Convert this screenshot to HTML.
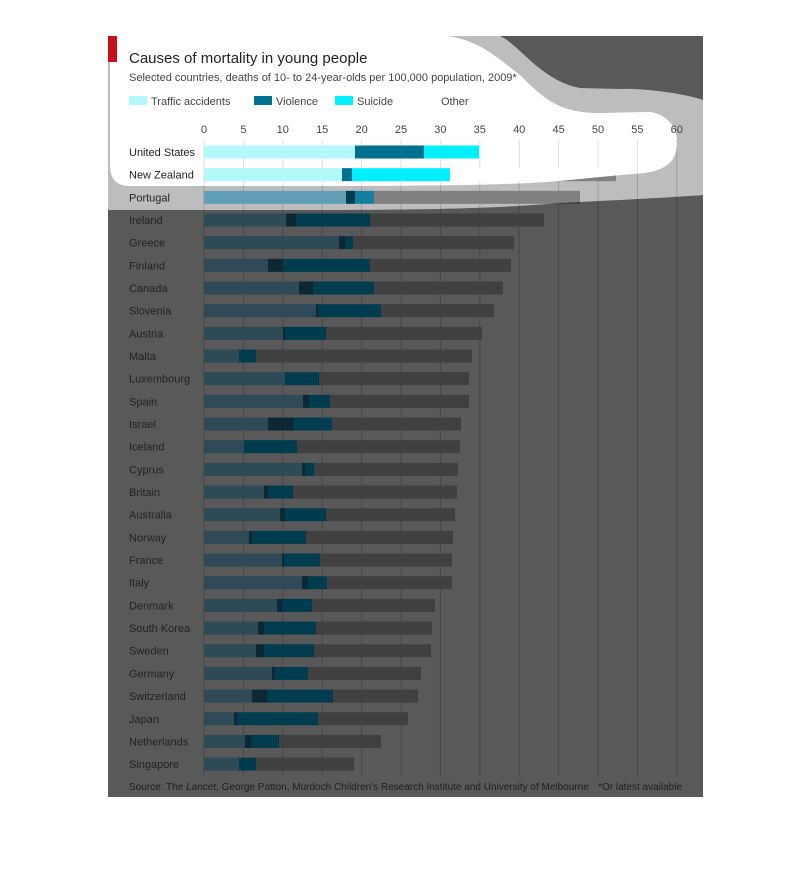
<!DOCTYPE html>
<html><head><meta charset="utf-8"><style>
html,body{margin:0;padding:0;background:#fff;width:810px;height:892px;overflow:hidden}
svg{display:block}
text{font-family:"Liberation Sans",sans-serif}
</style></head><body>
<svg id="s" width="810" height="892" xmlns="http://www.w3.org/2000/svg">
<defs>
<mask id="mMid"><path d="M108,36 L500,36 C520,45 540,80 580,88 L620,89 C650,88 690,95 703,100 L703,195 C680,197 620,200 560,203 C500,208 440,210 300,210 L108,210 Z" fill="#fff"/></mask>
<mask id="mLight"><path d="M115,36 L447,36 C480,40 500,60 520,75 C545,100 560,113 600,113 L650,112 C670,115 678,130 677,145 C676,162 665,170 645,173 C610,176 590,178 570,180 C530,184 480,186 300,186 L130,186 C114,186 110,176 110,165 L110,60 C110,45 112,36 115,36 Z" fill="#fff"/></mask>
<clipPath id="cp"><rect x="108" y="36" width="595" height="761"/></clipPath>
</defs>
<g clip-path="url(#cp)">
<g id="dark"></g>
<g id="mid" mask="url(#mMid)"></g>
<g id="light" mask="url(#mLight)"></g>
</g>
<rect x="108" y="36" width="9" height="26" fill="#c8101a"/>
<text x="129" y="63" font-size="15" fill="#222">Causes of mortality in young people</text>
<text x="129" y="81" font-size="11" fill="#444">Selected countries, deaths of 10- to 24-year-olds per 100,000 population, 2009*</text>
<rect x="129" y="96" width="18" height="9" fill="#b3f9fb"/><text x="151" y="105" font-size="11" fill="#444">Traffic accidents</text>
<rect x="254" y="96" width="18" height="9" fill="#00718f"/><text x="276" y="105" font-size="11" fill="#444">Violence</text>
<rect x="335" y="96" width="18" height="9" fill="#00f0ff"/><text x="357" y="105" font-size="11" fill="#444">Suicide</text>
<text x="441" y="105" font-size="11" fill="#444">Other</text>
<g id="ticks" font-size="11" fill="#444" text-anchor="middle"></g>
<g id="labels" font-size="11" fill="#222"></g>
<text x="129" y="790" font-size="10" fill="#1e1e1e">Source: The <tspan font-style="italic">Lancet</tspan>, George Patton, Murdoch Children's Research Institute and University of Melbourne</text>
<text x="682" y="790" font-size="10" fill="#1e1e1e" text-anchor="end">*Or latest available</text>
</svg>
<script>
var rows=[["United States",355,424,479,479],["New Zealand",342,352,450,616],["Portugal",346,355,374,580],["Ireland",286,296,370,544],["Greece",339,345,353,514],["Finland",268,283,370,511],["Canada",299,313,374,503],["Slovenia",316,318,381,494],["Austria",283,285,326,482],["Malta",239,239,256,472],["Luxembourg",285,285,319,469],["Spain",303,309,330,469],["Israel",268,293,332,461],["Iceland",244,244,297,460],["Cyprus",302,305,314,458],["Britain",264,268,293,457],["Australia",280,285,326,455],["Norway",249,252,306,453],["France",282,284,320,452],["Italy",302,308,327,452],["Denmark",277,282,312,435],["South Korea",258,264,316,432],["Sweden",256,264,314,431],["Germany",272,275,308,421],["Switzerland",252,267,333,418],["Japan",234,237,318,408],["Netherlands",245,251,279,381],["Singapore",239,239,256,354]];
var pal={dark:{bg:"#595959",g:"#474747",c:["#2e4a56","#0d2733","#003c50","#404040"]},
mid:{bg:"#bdbdbd",g:"#a0a0a0",c:["#5e9fb5","#003d52","#1380a0","#808080"]},
light:{bg:"#ffffff",g:"#dddddd",c:["#b3f9fb","#00718f","#00f0ff","#ffffff"]}};
var NS="http://www.w3.org/2000/svg",STEP=39.4;
function el(p,t,a){var e=document.createElementNS(NS,t);for(var k in a)e.setAttribute(k,a[k]);p.appendChild(e);return e;}
for(var k in pal){var g=document.getElementById(k),P=pal[k];
el(g,"rect",{x:0,y:0,width:810,height:892,fill:P.bg});
for(var i=0;i<=12;i++){var x=204+i*STEP;el(g,"rect",{x:x-0.5,y:140,width:1,height:636,fill:P.g});}
rows.forEach(function(r,j){var y=152+j*22.67-6.5,prev=204;
for(var s=0;s<4;s++){var e=r[s+1];if(e>prev)el(g,"rect",{x:prev,y:y,width:e-prev,height:13,fill:P.c[s]});prev=Math.max(prev,e);}});}
var t=document.getElementById("ticks");
for(var i=0;i<=12;i++){var tx=el(t,"text",{x:204+i*STEP,y:133});tx.textContent=i*5;}
var L=document.getElementById("labels");
rows.forEach(function(r,j){var tx=el(L,"text",{x:129,y:152+j*22.67+4});tx.textContent=r[0];});
</script>
</body></html>
